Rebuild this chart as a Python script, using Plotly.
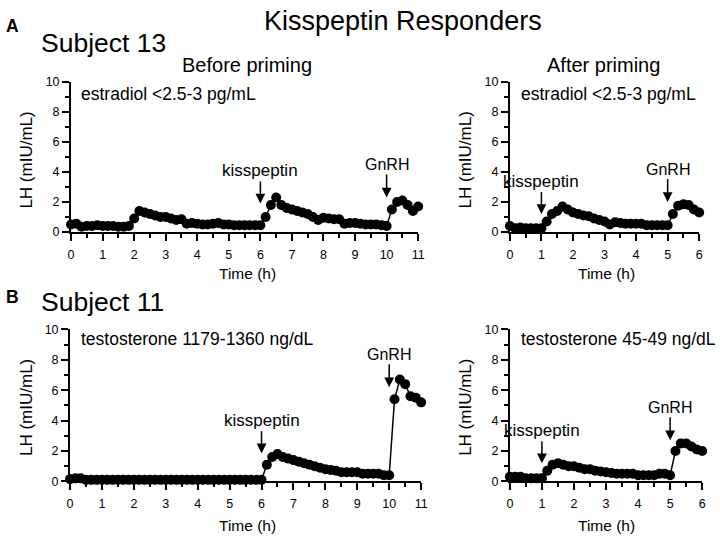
import plotly.graph_objects as go

# ---------------- data ----------------
minutes_11h = [0, 10, 20, 30, 40, 50, 60, 70, 80, 90, 100, 110, 120, 130, 140, 150, 160, 170,
               180, 190, 200, 210, 220, 230, 240, 250, 260, 270, 280, 290, 300, 310, 320, 330,
               340, 350, 360, 370, 380, 390, 400, 410, 420, 430, 440, 450, 460, 470, 480, 490,
               500, 510, 520, 530, 540, 550, 560, 570, 580, 590, 600, 610, 620, 630, 640, 650, 660]
minutes_6h = [0, 10, 20, 30, 40, 50, 60, 70, 80, 90, 100, 110, 120, 130, 140, 150, 160, 170,
              180, 190, 200, 210, 220, 230, 240, 250, 260, 270, 280, 290, 300, 310, 320, 330,
              340, 350, 360]

lh_s13_before = [0.50, 0.55, 0.35, 0.40, 0.40, 0.45, 0.40, 0.40, 0.40, 0.35, 0.35, 0.40,
                 0.90, 1.40, 1.30, 1.20, 1.10, 1.00, 1.00, 0.90, 0.80, 0.85, 0.55, 0.60,
                 0.55, 0.50, 0.50, 0.55, 0.60, 0.50, 0.50, 0.45, 0.45, 0.45, 0.45, 0.45,
                 0.45, 1.00, 1.80, 2.30, 1.80, 1.60, 1.50, 1.40, 1.30, 1.20, 1.00, 0.80,
                 0.95, 0.90, 0.85, 0.85, 0.55, 0.60, 0.60, 0.55, 0.50, 0.50, 0.50, 0.45,
                 0.40, 1.50, 2.00, 2.10, 1.80, 1.40, 1.70]
lh_s13_after = [0.40, 0.25, 0.30, 0.25, 0.25, 0.25, 0.25, 0.70, 1.20, 1.40, 1.70, 1.50,
                1.30, 1.20, 1.10, 1.05, 0.90, 0.80, 0.70, 0.50, 0.65, 0.60, 0.55, 0.55,
                0.55, 0.55, 0.45, 0.45, 0.45, 0.45, 0.45, 1.20, 1.75, 1.85, 1.80, 1.50, 1.30]
lh_s11_before = [0.15, 0.20, 0.20, 0.10, 0.10, 0.10, 0.10, 0.10, 0.10, 0.10, 0.10, 0.10,
                 0.10, 0.10, 0.10, 0.10, 0.10, 0.10, 0.10, 0.10, 0.10, 0.10, 0.10, 0.10,
                 0.10, 0.10, 0.10, 0.10, 0.10, 0.10, 0.10, 0.10, 0.10, 0.10, 0.10, 0.10,
                 0.10, 1.10, 1.60, 1.80, 1.60, 1.50, 1.40, 1.30, 1.20, 1.10, 1.00, 0.90,
                 0.80, 0.75, 0.70, 0.60, 0.60, 0.60, 0.60, 0.50, 0.50, 0.50, 0.50, 0.40,
                 0.40, 5.40, 6.70, 6.40, 5.60, 5.50, 5.20]
lh_s11_after = [0.30, 0.30, 0.30, 0.20, 0.20, 0.20, 0.20, 0.70, 1.10, 1.20, 1.10, 1.00,
                1.00, 0.90, 0.80, 0.80, 0.70, 0.65, 0.60, 0.55, 0.50, 0.50, 0.50, 0.50,
                0.40, 0.40, 0.40, 0.40, 0.50, 0.50, 0.40, 2.00, 2.50, 2.50, 2.30, 2.10, 2.00]

# injection times (h) and arrow-tip LH level per panel
kiss_time = [6, 1, 6, 1]
gnrh_time = [10, 5, 10, 5]
kiss_tip = [1.9, 1.2, 1.85, 1.2]
gnrh_tip = [2.3, 2.0, 6.2, 2.7]

panel_notes = ["estradiol <2.5-3 pg/mL", "estradiol <2.5-3 pg/mL",
               "testosterone 1179-1360 ng/dL", "testosterone 45-49 ng/dL"]
col_titles = ["Before priming", "After priming"]
row_titles = ["Subject 13", "Subject 11"]
row_letters = ["A", "B"]
main_title = "Kisspeptin Responders"

# ---------------- layout helpers ----------------
W, H = 720, 541
FONT = "Arial, Liberation Sans, Helvetica, sans-serif"


def px(x):
    return x / W


def py(y):
    return 1 - y / H


def text_ann(x, y, text, size, xanchor="center", angle=0, bold=False):
    return dict(x=px(x), y=py(y), xref="paper", yref="paper",
                text=("<b>%s</b>" % text) if bold else text,
                showarrow=False, xanchor=xanchor, yanchor="middle", textangle=angle,
                font=dict(size=size, color="black", family=FONT))


# pixel geometry of the four panels: (x0, x_end, xmax, ybottom, ytop)
panels = [
    (69, 421, 11, 231, 77),
    (514, 706, 6, 231, 77),
    (68, 424, 11, 487, 331),
    (514, 709, 6, 487, 331),
]

series = [
    ([m / 60 for m in minutes_11h], lh_s13_before),
    ([m / 60 for m in minutes_6h], lh_s13_after),
    ([m / 60 for m in minutes_11h], lh_s11_before),
    ([m / 60 for m in minutes_6h], lh_s11_after),
]

fig = go.Figure()
annotations = []
layout_axes = {}

for i, ((x0, x1, xmax, yb, yt), (xs, ys)) in enumerate(zip(panels, series)):
    n = "" if i == 0 else str(i + 1)
    fig.add_trace(go.Scatter(
        x=xs, y=ys, mode="lines+markers",
        line=dict(color="black", width=1.5),
        marker=dict(color="black", size=10),
        xaxis="x" + n, yaxis="y" + n, cliponaxis=False, showlegend=False,
    ))
    layout_axes["xaxis" + n] = dict(
        domain=[px(x0), px(x1)], range=[0, xmax], anchor="y" + n,
        showline=True, linecolor="black", linewidth=2, mirror=False,
        ticks="outside", ticklen=7, tickwidth=2, tickcolor="black", dtick=1, tick0=0,
        minor=dict(ticks="outside", dtick=0.5, ticklen=4, tickwidth=2, tickcolor="black"),
        showgrid=False, zeroline=False, fixedrange=True,
        tickfont=dict(size=12.5, color="black", family=FONT),
        ticklabelstandoff=3,
    )
    layout_axes["yaxis" + n] = dict(
        domain=[py(yb), py(yt)], range=[0, 10], anchor="x" + n,
        showline=True, linecolor="black", linewidth=2,
        ticks="outside", ticklen=7, tickwidth=2, tickcolor="black", dtick=2, tick0=0,
        minor=dict(ticks="outside", dtick=1, ticklen=4, tickwidth=2, tickcolor="black"),
        showgrid=False, zeroline=False, fixedrange=True,
        tickfont=dict(size=12.5, color="black", family=FONT),
    )
    xr = "x" + n
    yr = "y" + n
    # arrows
    annotations.append(dict(
        x=kiss_time[i], y=kiss_tip[i], xref=xr, yref=yr, text="kisspeptin",
        showarrow=True, ax=0, ay=-33, arrowhead=2, arrowsize=1.3, arrowwidth=1.5,
        arrowcolor="black", standoff=0, xanchor="center", yanchor="middle",
        font=dict(size=17, color="black", family=FONT)))
    annotations.append(dict(
        x=gnrh_time[i], y=gnrh_tip[i], xref=xr, yref=yr, text="GnRH",
        showarrow=True, ax=0, ay=-33, arrowhead=2, arrowsize=1.3, arrowwidth=1.5,
        arrowcolor="black", standoff=0, xanchor="center", yanchor="middle",
        font=dict(size=16, color="black", family=FONT)))
    # panel note
    note_x = 77 if i % 2 == 0 else 523
    note_y = 89 if i < 2 else 341
    annotations.append(text_ann(note_x, note_y, panel_notes[i], 17.5, xanchor="left"))
    # axis titles
    ytx = 24 if i % 2 == 0 else 469
    yty = 157 if i < 2 else 411
    annotations.append(text_ann(ytx, yty, "LH (mIU/mL)", 17, angle=-90))
    xtx = 248 if i % 2 == 0 else 612
    xty = 274 if i < 2 else 532
    annotations.append(text_ann(xtx, xty, "Time (h)", 15.5))

# column titles
annotations.append(text_ann(247, 60, col_titles[0], 20))
annotations.append(text_ann(609, 60, col_titles[1], 20))
# row titles and letters
annotations.append(text_ann(36, 37, row_titles[0], 26.5, xanchor="left"))
annotations.append(text_ann(36, 303, row_titles[1], 26.5, xanchor="left"))
annotations.append(text_ann(1, 20, row_letters[0], 17.5, xanchor="left", bold=True))
annotations.append(text_ann(1, 298, row_letters[1], 17.5, xanchor="left", bold=True))
# main title
annotations.append(text_ann(406, 14, main_title, 27))

fig.update_layout(
    width=W, height=H, margin=dict(l=0, r=0, t=0, b=0, pad=0),
    paper_bgcolor="white", plot_bgcolor="white",
    font=dict(family=FONT, color="black"),
    annotations=annotations, showlegend=False,
    **layout_axes,
)

fig.write_html("out.html", config={"displayModeBar": False},
               post_script="document.body.style.margin='0';document.body.style.padding='0';")
